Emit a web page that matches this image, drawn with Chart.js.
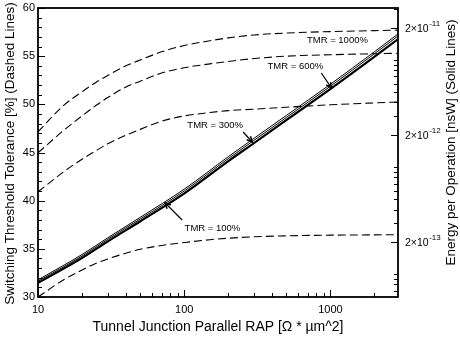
<!DOCTYPE html>
<html>
<head>
<meta charset="utf-8">
<script src="https://cdn.jsdelivr.net/npm/chart.js@4/dist/chart.umd.min.js"></script>
<style>
  html, body { margin: 0; padding: 0; background: #fff; }
  canvas { display: block; }
</style>
</head>
<body>
<canvas id="chart" width="460" height="337"></canvas>
<script>
// tick labels
const rapTicks = [10, 100, 1000];
const toleranceTicks = [30, 35, 40, 45, 50, 55, 60];
const energyTicks = [2e-13, 2e-12, 2e-11];

// switching threshold tolerance (dashed lines, left axis)
const rapDashed = [10, 15, 20, 25, 30, 40, 50, 70, 100, 150, 200, 300, 500, 1000, 2000, 2900];
const tol1000 = [47.15, 49.9, 51.3, 52.3, 53.0, 54.0, 54.6, 55.45, 56.1, 56.6, 56.9, 57.2, 57.4, 57.55, 57.65, 57.7];
const tol600 = [44.97, 47.3, 48.8, 49.9, 50.7, 51.8, 52.4, 53.25, 53.8, 54.2, 54.45, 54.75, 55.0, 55.15, 55.25, 55.3];
const tol300 = [40.92, 43.0, 44.3, 45.2, 45.9, 46.8, 47.4, 48.25, 48.8, 49.15, 49.35, 49.5, 49.7, 49.95, 50.15, 50.25];
const tol100 = [30.0, 31.8, 32.8, 33.5, 33.95, 34.55, 34.95, 35.35, 35.65, 35.95, 36.1, 36.25, 36.35, 36.42, 36.45, 36.47];

// energy per operation (solid lines, right axis)
const rapSolid = [10, 20, 30, 50, 100, 200, 300, 500, 1000, 2000, 2900];
const energy100 = [8.2e-14, 1.4e-13, 2.0e-13, 3.08e-13, 5.6e-13, 1.12e-12, 1.66e-12, 2.72e-12, 5.3e-12, 1.06e-11, 1.55e-11];
const energy300 = [8.32e-14, 1.42e-13, 2.03e-13, 3.13e-13, 5.68e-13, 1.14e-12, 1.68e-12, 2.76e-12, 5.38e-12, 1.076e-11, 1.573e-11];
const energy600 = [8.56e-14, 1.47e-13, 2.11e-13, 3.26e-13, 5.96e-13, 1.195e-12, 1.77e-12, 2.9e-12, 5.67e-12, 1.14e-11, 1.67e-11];
const energy1000 = [8.82e-14, 1.52e-13, 2.18e-13, 3.38e-13, 6.2e-13, 1.245e-12, 1.85e-12, 3.03e-12, 5.92e-12, 1.19e-11, 1.745e-11];

const FONT = "'Liberation Sans', Arial, Helvetica, sans-serif";

// annotation text and arrows, placed in data coordinates (x = RAP, y = tolerance axis)
const notes = [
    { text: 'TMR = 1000%', x: 1117, y: 56.68 },
    { text: 'TMR = 600%', x: 576, y: 53.93, from: [867, 53.25], to: [1016, 51.7] },
    { text: 'TMR = 300%', x: 163, y: 47.85, from: [253, 47.13], to: [292, 46.09] },
    { text: 'TMR = 100%', x: 156, y: 37.16, from: [96.8, 37.99], to: [74.1, 39.76] }
];

function pts(xs, ys) {
    return xs.map((x, i) => ({ x: x, y: ys[i] }));
}

function dashed(data) {
    return {
        data: pts(rapDashed, data),
        yAxisID: 'y',
        borderColor: '#000',
        borderWidth: 1.1,
        borderDash: [8, 4],
        pointRadius: 0,
        cubicInterpolationMode: 'monotone'
    };
}

function solid(data, width) {
    return {
        data: pts(rapSolid, data),
        yAxisID: 'y2',
        borderColor: '#000',
        borderWidth: width,
        pointRadius: 0,
        cubicInterpolationMode: 'monotone'
    };
}

function line(ctx, x1, y1, x2, y2) {
    ctx.beginPath();
    ctx.moveTo(x1, y1);
    ctx.lineTo(x2, y2);
    ctx.stroke();
}

// frame, inward ticks, tick labels, axis titles and TMR notes
const decorations = {
    id: 'decorations',
    afterDraw(chart) {
        const { ctx, chartArea: a, scales } = chart;
        const xs = scales.x, ys = scales.y, es = scales.y2;
        ctx.save();
        ctx.strokeStyle = '#000';
        ctx.fillStyle = '#000';

        ctx.lineWidth = 1.8;
        ctx.strokeRect(a.left, a.top, a.right - a.left, a.bottom - a.top);

        ctx.lineWidth = 1;
        // bottom ticks
        for (let d = 10; d <= 1000; d *= 10) {
            for (let m = 1; m < 10; m++) {
                const v = d * m;
                if (v > xs.max) break;
                const px = Math.round(xs.getPixelForValue(v)) + 0.5;
                line(ctx, px, a.bottom, px, a.bottom - (m === 1 ? 7 : 4));
            }
        }
        // left ticks
        for (let v = 30; v <= 60; v++) {
            const py = Math.round(ys.getPixelForValue(v)) + 0.5;
            line(ctx, a.left, py, a.left + (v % 5 === 0 ? 7 : 4), py);
        }
        // right ticks
        for (let e = -14; e <= -11; e++) {
            for (let m = 1; m < 10; m++) {
                const v = m * Math.pow(10, e);
                if (v < es.min || v > es.max) continue;
                const py = Math.round(es.getPixelForValue(v)) + 0.5;
                line(ctx, a.right, py, a.right - (m === 2 ? 7 : 4), py);
            }
        }

        // tick labels
        ctx.font = '11px ' + FONT;
        ctx.textAlign = 'center';
        ctx.textBaseline = 'top';
        rapTicks.forEach(v => ctx.fillText(String(v), xs.getPixelForValue(v), a.bottom + 7));
        ctx.textAlign = 'right';
        ctx.textBaseline = 'middle';
        toleranceTicks.forEach(v => ctx.fillText(String(v), a.left - 3, ys.getPixelForValue(v)));

        energyTicks.forEach(v => {
            const py = es.getPixelForValue(v);
            const exp = Math.round(Math.log10(v / 2));
            ctx.textAlign = 'left';
            ctx.font = '10.5px ' + FONT;
            ctx.fillText('2×10', a.right + 7, py + 1);
            const w = ctx.measureText('2×10').width;
            ctx.font = '8px ' + FONT;
            ctx.fillText(String(exp), a.right + 7 + w + 0.5, py - 4);
        });

        // axis titles
        const midY = (a.top + a.bottom) / 2;
        ctx.textAlign = 'center';
        ctx.textBaseline = 'middle';
        ctx.font = '14px ' + FONT;
        ctx.fillText('Tunnel Junction Parallel RAP [Ω * µm^2]', (a.left + a.right) / 2, 327);

        ctx.font = '13.5px ' + FONT;
        ctx.save();
        ctx.translate(10, midY + 1);
        ctx.rotate(-Math.PI / 2);
        ctx.fillText('Switching Threshold Tolerance [%] (Dashed Lines)', 0, 0);
        ctx.restore();

        ctx.save();
        ctx.translate(451, midY - 10);
        ctx.rotate(-Math.PI / 2);
        ctx.fillText('Energy per Operation [nsW] (Solid Lines)', 0, 0);
        ctx.restore();

        // notes with arrows
        ctx.font = '9.5px ' + FONT;
        notes.forEach(n => {
            ctx.fillText(n.text, xs.getPixelForValue(n.x), ys.getPixelForValue(n.y));
            if (!n.from) return;
            const x1 = xs.getPixelForValue(n.from[0]), y1 = ys.getPixelForValue(n.from[1]);
            const x2 = xs.getPixelForValue(n.to[0]), y2 = ys.getPixelForValue(n.to[1]);
            ctx.lineWidth = 1.2;
            line(ctx, x1, y1, x2, y2);
            const ang = Math.atan2(y2 - y1, x2 - x1);
            const h = 6, spread = 0.45;
            ctx.beginPath();
            ctx.moveTo(x2 - h * Math.cos(ang - spread), y2 - h * Math.sin(ang - spread));
            ctx.lineTo(x2, y2);
            ctx.lineTo(x2 - h * Math.cos(ang + spread), y2 - h * Math.sin(ang + spread));
            ctx.lineWidth = 1.5;
            ctx.stroke();
        });
        ctx.restore();
    }
};

new Chart(document.getElementById('chart').getContext('2d'), {
    type: 'line',
    data: {
        datasets: [
            dashed(tol1000),
            dashed(tol600),
            dashed(tol300),
            dashed(tol100),
            solid(energy100, 1.6),
            solid(energy300, 1.6),
            solid(energy600, 1),
            solid(energy1000, 1)
        ]
    },
    options: {
        responsive: false,
        animation: false,
        devicePixelRatio: 1,
        layout: { padding: { left: 38, right: 62, top: 8, bottom: 40 } },
        plugins: { legend: { display: false }, tooltip: { enabled: false } },
        scales: {
            x: { type: 'logarithmic', min: 10, max: 2900, display: false },
            y: { type: 'linear', min: 30, max: 60, display: false },
            y2: { type: 'logarithmic', min: 6.1e-14, max: 3.05e-11, display: false, position: 'right' }
        }
    },
    plugins: [decorations]
});
</script>
</body>
</html>
